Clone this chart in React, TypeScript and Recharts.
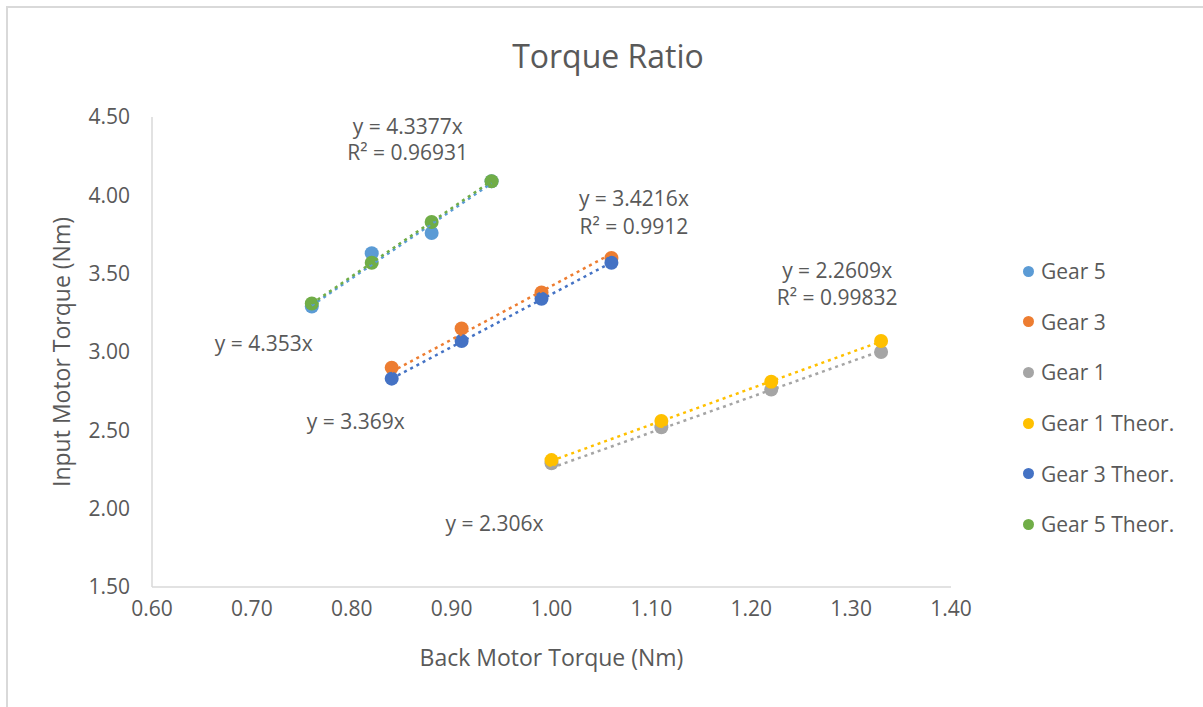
import React from "react";
import { ScatterChart, Scatter, XAxis, YAxis, ReferenceDot, Label } from "recharts";

// Series
const seriesNames = ["Gear 5", "Gear 3", "Gear 1", "Gear 1 Theor.", "Gear 3 Theor.", "Gear 5 Theor."];
const seriesColors = ["#5B9BD5", "#ED7D31", "#A5A5A5", "#FFC000", "#4472C4", "#70AD47"];

const gear5X = [0.76, 0.82, 0.88, 0.94];
const gear3X = [0.84, 0.91, 0.99, 1.06];
const gear1X = [1.0, 1.11, 1.22, 1.33];

const gear5Y = [3.29, 3.63, 3.76, 4.09];
const gear3Y = [2.9, 3.15, 3.38, 3.6];
const gear1Y = [2.29, 2.52, 2.76, 3.0];
const gear1TheorY = [2.31, 2.56, 2.81, 3.07];
const gear3TheorY = [2.83, 3.07, 3.34, 3.57];
const gear5TheorY = [3.31, 3.57, 3.83, 4.09];

// linear trendlines through the origin (slope per series)
const trendSlopes = [4.3377, 3.4216, 2.2609, 2.306, 3.369, 4.353];

const xTicks = [0.6, 0.7, 0.8, 0.9, 1.0, 1.1, 1.2, 1.3, 1.4];
const yTicks = [1.5, 2.0, 2.5, 3.0, 3.5, 4.0, 4.5];

// trendline equation labels
const annotationTexts = [
  "y = 4.3377x", "R² = 0.96931", "y = 4.353x",
  "y = 3.4216x", "R² = 0.9912", "y = 3.369x",
  "y = 2.2609x", "R² = 0.99832", "y = 2.306x",
];
const annotationAt = [
  [0.856, 4.436], [0.856, 4.27], [0.712, 3.051],
  [1.0825, 3.977], [1.0825, 3.798], [0.804, 2.553],
  [1.286, 3.523], [1.286, 3.345], [0.943, 1.908],
];

const seriesX = [gear5X, gear3X, gear1X, gear1X, gear3X, gear5X];
const seriesY = [gear5Y, gear3Y, gear1Y, gear1TheorY, gear3TheorY, gear5TheorY];

const series = seriesNames.map((name, i) => ({
  name,
  color: seriesColors[i],
  points: seriesX[i].map((x, j) => ({ x, y: seriesY[i][j] })),
  trend: [
    { x: seriesX[i][0], y: trendSlopes[i] * seriesX[i][0] },
    { x: seriesX[i][seriesX[i].length - 1], y: trendSlopes[i] * seriesX[i][seriesX[i].length - 1] },
  ],
}));

const textColor = "#595959";
const font = "'Open Sans', sans-serif";

const Marker = (props: any) => (
  <circle cx={props.cx} cy={props.cy} r={7} fill={props.fill} />
);

export default function App() {
  return (
    <div style={{ position: "absolute", left: 0, top: 0, width: 1203, height: 707, background: "#fff", fontFamily: font }}>
      {/* chart frame */}
      <div style={{ position: "absolute", left: 6, top: 6, width: 1200, height: 710, borderLeft: "2px solid #D9D9D9", borderTop: "2px solid #D9D9D9" }} />
      <div style={{ position: "absolute", left: 0, width: 1216, top: 36, textAlign: "center", fontSize: 32, color: textColor, lineHeight: "40px" }}>
        Torque Ratio
      </div>
      <div style={{ position: "absolute", left: 0, top: 0 }}>
        <ScatterChart width={1203} height={707} margin={{ top: 117, right: 252, bottom: 0, left: 0 }}>
          <XAxis
            type="number"
            dataKey="x"
            domain={[0.6, 1.4]}
            ticks={xTicks}
            tickFormatter={(v: number) => v.toFixed(2)}
            height={120}
            axisLine={{ stroke: "#D9D9D9", strokeWidth: 1.5 }}
            tickLine={false}
            tickMargin={8}
            tick={{ fill: textColor, fontSize: 21 }}
            allowDataOverflow
          >
            <Label value="Back Motor Torque (Nm)" position="center" dy={11} fill={textColor} fontSize={23} />
          </XAxis>
          <YAxis
            type="number"
            dataKey="y"
            domain={[1.5, 4.5]}
            ticks={yTicks}
            tickFormatter={(v: number) => v.toFixed(2)}
            width={152}
            axisLine={{ stroke: "#D9D9D9", strokeWidth: 1.5 }}
            tickLine={false}
            tickMargin={16}
            tick={{ fill: textColor, fontSize: 21 }}
            allowDataOverflow
          >
            <Label value="Input Motor Torque (Nm)" angle={-90} position="center" dx={-14} fill={textColor} fontSize={23} />
          </YAxis>
          {series.map((s) => (
            <Scatter
              key={s.name}
              name={s.name}
              data={s.points}
              fill={s.color}
              shape={Marker}
              isAnimationActive={false}
            />
          ))}
          {series.map((s) => (
            <Scatter
              key={s.name + "-trend"}
              data={s.trend}
              fill="none"
              line={{ stroke: s.color, strokeWidth: 2.5, strokeDasharray: "3 4" }}
              shape={() => <g />}
              legendType="none"
              isAnimationActive={false}
            />
          ))}
          {annotationTexts.map((t, i) => (
            <ReferenceDot
              key={t}
              x={annotationAt[i][0]}
              y={annotationAt[i][1]}
              r={0}
              fill="none"
              stroke="none"
              label={{ value: t, position: "center", fill: textColor, fontSize: 21 }}
            />
          ))}
        </ScatterChart>
      </div>
      {/* legend */}
      <div style={{ position: "absolute", left: 1023, top: 246 }}>
        {series.map((s) => (
          <div key={s.name} style={{ height: 50.6, display: "flex", alignItems: "center", fontSize: 21, color: textColor }}>
            <span style={{ width: 11, height: 11, borderRadius: "50%", background: s.color, display: "inline-block", marginRight: 7 }} />
            {s.name}
          </div>
        ))}
      </div>
    </div>
  );
}
